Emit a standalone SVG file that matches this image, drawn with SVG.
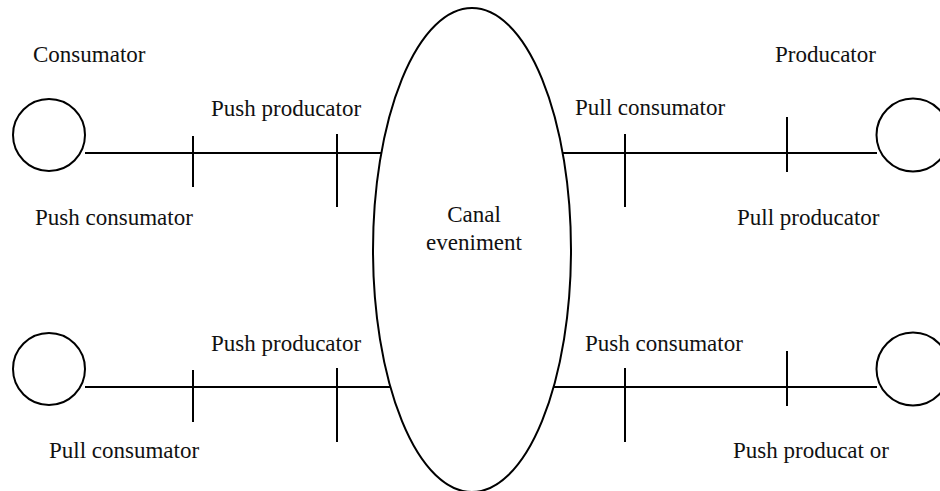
<svg xmlns="http://www.w3.org/2000/svg" width="940" height="491" viewBox="0 0 940 491">
<style>
.s{fill:none;stroke:#000;stroke-width:2}
</style>
<rect width="940" height="491" fill="#fff"/>
<g id="connectors">
<line class="s" x1="85" y1="153" x2="381" y2="153"/>
<line class="s" x1="563" y1="153" x2="877" y2="153"/>
<line class="s" x1="85" y1="387" x2="390" y2="387"/>
<line class="s" x1="554" y1="387" x2="877" y2="387"/>
<line class="s" x1="193" y1="136" x2="193" y2="187"/>
<line class="s" x1="337" y1="134" x2="337" y2="207"/>
<line class="s" x1="625" y1="134" x2="625" y2="207"/>
<line class="s" x1="787" y1="117" x2="787" y2="172"/>
<line class="s" x1="193" y1="370" x2="193" y2="422"/>
<line class="s" x1="337" y1="368" x2="337" y2="442"/>
<line class="s" x1="625" y1="368" x2="625" y2="442"/>
<line class="s" x1="787" y1="351" x2="787" y2="406"/>
</g>
<g font-family="Liberation Serif, serif" font-size="23" fill="#111">
<g id="canal">
<ellipse class="s" cx="472" cy="250" rx="99" ry="242"/>
<text x="474" y="222" text-anchor="middle">Canal</text>
<text x="474" y="250" text-anchor="middle">eveniment</text>
</g>
<g id="consumator-top">
<circle class="s" cx="49" cy="135" r="36"/>
<text x="33" y="62">Consumator</text>
</g>
<g id="producator-top">
<circle class="s" cx="913" cy="135" r="36.5"/>
<text x="775" y="62">Producator</text>
</g>
<g id="consumator-bottom">
<circle class="s" cx="49" cy="369" r="36"/>
</g>
<g id="producator-bottom">
<circle class="s" cx="913" cy="369" r="36.5"/>
</g>
<g id="labels">
<text x="211" y="116">Push producator</text>
<text x="35" y="225">Push consumator</text>
<text x="575" y="115">Pull consumator</text>
<text x="737" y="225">Pull producator</text>
<text x="211" y="351">Push producator</text>
<text x="49" y="458">Pull consumator</text>
<text x="585" y="351">Push consumator</text>
<text x="733" y="458">Push producat or</text>
</g>
</g>
</svg>
